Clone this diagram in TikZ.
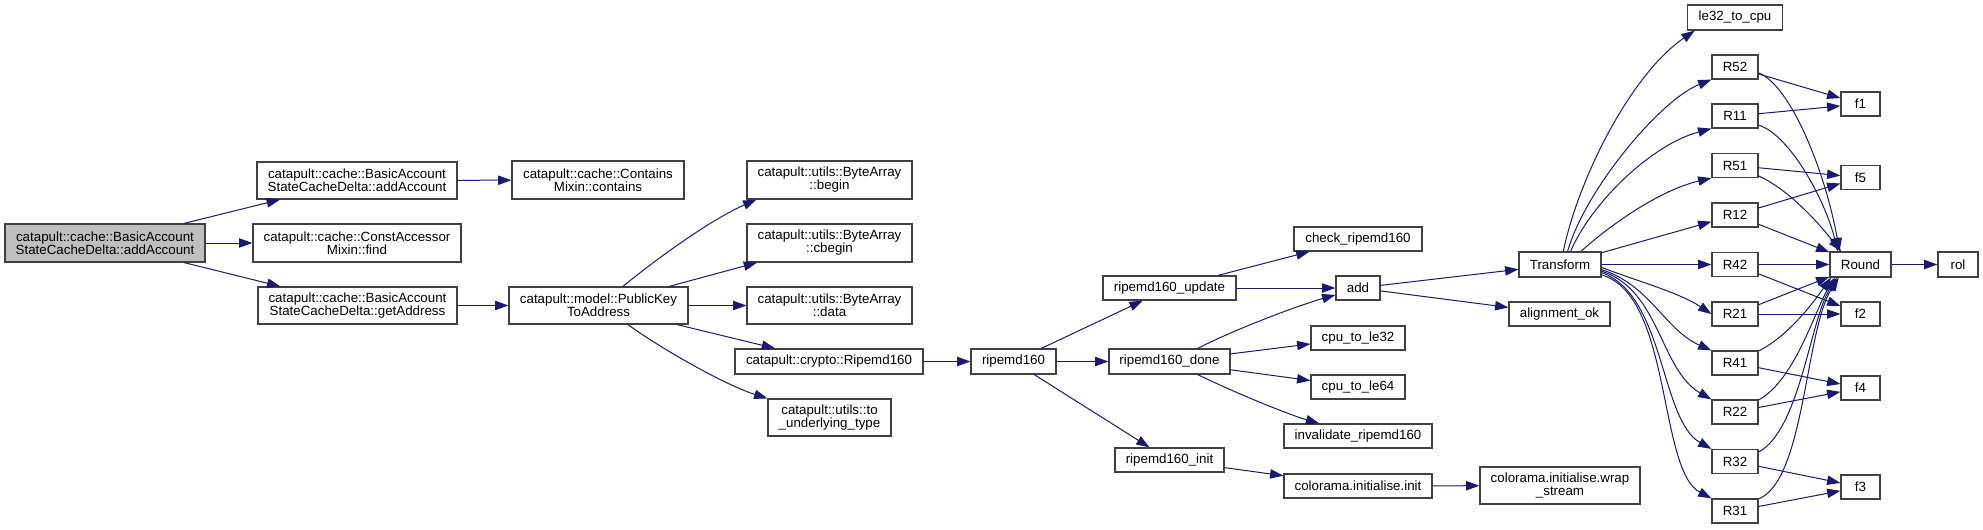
\documentclass[tikz,border=0pt]{standalone}
\usepackage{fontspec}
\setmainfont{Liberation Sans}
\usetikzlibrary{arrows.meta}
\definecolor{edgec}{HTML}{191970}
\definecolor{bord}{HTML}{404040}
\definecolor{rootfill}{HTML}{BFBFBF}
\begin{document}
\begin{tikzpicture}[x=0.75pt,y=-0.75pt,
  box/.style={draw=bord,line width=0.9pt,fill=white,inner sep=0pt,align=center,
    font=\fontsize{10pt}{9.75pt}\selectfont},
  sz/.style 2 args={minimum width=#1*0.75pt,minimum height=#2*0.75pt},
  rootbox/.style={box,fill=rootfill},
  edge/.style={draw=edgec,line width=0.75pt,-{Triangle[length=10pt,width=7pt]}}]
\useasboundingbox (0,0) rectangle (1983,529);
% nodes
\node[rootbox,sz={200}{38}] (root) at (105,243) {catapult::cache::BasicAccount\\StateCacheDelta::addAccount};
\node[box,sz={200}{37}] (addacc) at (357,180.5) {catapult::cache::BasicAccount\\StateCacheDelta::addAccount};
\node[box,sz={208}{38}] (find) at (357,243) {catapult::cache::ConstAccessor\\Mixin::find};
\node[box,sz={199}{37}] (getaddr) at (357.5,305.5) {catapult::cache::BasicAccount\\StateCacheDelta::getAddress};
\node[box,sz={172}{38}] (contains) at (598,180) {catapult::cache::Contains\\Mixin::contains};
\node[box,sz={179}{37}] (pk) at (598.5,305.5) {catapult::model::PublicKey\\ToAddress};
\node[box,sz={165}{38}] (begin) at (829.5,180) {catapult::utils::ByteArray\\::begin};
\node[box,sz={165}{38}] (cbegin) at (829.5,243) {catapult::utils::ByteArray\\::cbegin};
\node[box,sz={165}{37}] (data) at (829.5,305.5) {catapult::utils::ByteArray\\::data};
\node[box,sz={188}{25}] (crypto) at (829,361.5) {catapult::crypto::Ripemd160};
\node[box,sz={123}{37}] (tounder) at (829.5,417.5) {catapult::utils::to\\\_underlying\_type};
\node[box,sz={85}{25}] (rmd) at (1013.5,361.5) {ripemd160};
\node[box,sz={133}{24}] (upd) at (1169.5,288) {ripemd160\_update};
\node[box,sz={121}{25}] (done) at (1169.5,361.5) {ripemd160\_done};
\node[box,sz={109}{24}] (init) at (1169.5,460) {ripemd160\_init};
\node[box,sz={128}{24}] (check) at (1358,239) {check\_ripemd160};
\node[box,sz={44}{24}] (add) at (1358,288) {add};
\node[box,sz={94}{24}] (le32) at (1358,338) {cpu\_to\_le32};
\node[box,sz={94}{24}] (le64) at (1358,387) {cpu\_to\_le64};
\node[box,sz={148}{24}] (inval) at (1358,436) {invalidate\_ripemd160};
\node[box,sz={148}{24}] (cinit) at (1358,486) {colorama.initialise.init};
\node[box,sz={82}{25}] (tr) at (1560,264.5) {Transform};
\node[box,sz={101}{24}] (align) at (1559.5,314) {alignment\_ok};
\node[box,sz={160}{37}] (wrap) at (1560,485.5) {colorama.initialise.wrap\\\_stream};
\node[box,sz={95}{25}] (lecpu) at (1735,17.5) {le32\_to\_cpu};
\node[box,sz={46}{24}] (R52) at (1735,67) {R52};
\node[box,sz={46}{24}] (R11) at (1735,116) {R11};
\node[box,sz={46}{24}] (R51) at (1735,165.5) {R51};
\node[box,sz={46}{24}] (R12) at (1735,215) {R12};
\node[box,sz={46}{24}] (R42) at (1735,264.5) {R42};
\node[box,sz={46}{24}] (R21) at (1735,314) {R21};
\node[box,sz={46}{24}] (R41) at (1735,363) {R41};
\node[box,sz={46}{24}] (R22) at (1735,412) {R22};
\node[box,sz={46}{24}] (R32) at (1735,461.5) {R32};
\node[box,sz={46}{24}] (R31) at (1735,511) {R31};
\node[box,sz={39}{24}] (f1) at (1860.5,104) {f1};
\node[box,sz={39}{24}] (f5) at (1860.5,177.5) {f5};
\node[box,sz={39}{24}] (f2) at (1860.5,314) {f2};
\node[box,sz={39}{24}] (f4) at (1860.5,388) {f4};
\node[box,sz={39}{24}] (f3) at (1860.5,487) {f3};
\node[box,sz={61}{25}] (round) at (1860.5,264.5) {Round};
\node[box,sz={40}{25}] (rol) at (1958,264.5) {rol};
% straight edges
\foreach \a/\b in {root/addacc,root/find,root/getaddr,addacc/contains,getaddr/pk,
  pk/cbegin,pk/data,pk/crypto,crypto/rmd,rmd/upd,rmd/done,rmd/init,upd/check,upd/add,
  done/le32,done/le64,init/cinit,cinit/wrap,add/tr,add/align,tr/R12,tr/R42,
  R52/f1,R11/f1,R51/f5,R12/f5,R12/round,R42/round,R42/f2,R21/round,R21/f2,
  R41/f4,R22/f4,R32/f3,R31/f3,round/rol}
  \draw[edge] (\a) -- (\b);
% curved edges
\draw[edge] (pk.38.2) .. controls (655,260) and (710,220) .. (begin.195.9);
\draw[edge] (pk.-33) .. controls (660,348) and (725,385) .. (tounder.north west);
\draw[edge] (done.25.3) .. controls (1240,327) and (1300,305) .. (add.197.6);
\draw[edge] (done.-25.3) .. controls (1240,395) and (1290,415) .. (inval.162.5);
% Transform upward fan
\draw[edge] (tr.76.5) .. controls (1578,180) and (1630,75) .. (lecpu.198.7);
\draw[edge] (tr.60.8) .. controls (1585,190) and (1660,100) .. (R52.south west);
\draw[edge] (tr.51.3) .. controls (1590,205) and (1650,145) .. (R11.south west);
\draw[edge] (tr.32) .. controls (1610,225) and (1660,190) .. (R51.south west);
% Transform downward fan
\draw[edge] (tr.-4.9) .. controls (1640,282) and (1680,293) .. (R21.west);
\draw[edge] (tr.-7.6) .. controls (1650,285) and (1665,330) .. (R41.north west);
\draw[edge] (tr.-9.7) .. controls (1660,290) and (1660,370) .. (R22.north west);
\draw[edge] (tr.-11.7) .. controls (1665,295) and (1660,420) .. (R32.north west);
\draw[edge] (tr.-14) .. controls (1672,295) and (1658,470) .. (R31.north west);
% R -> Round curves
\draw[edge] (R52.-14.6) .. controls (1790,85) and (1825,170) .. (round.148.6);
\draw[edge] (R11.-21.4) .. controls (1790,135) and (1825,200) .. (round.150.9);
\draw[edge] (R51.-24.5) .. controls (1790,190) and (1820,225) .. (round.146);
\draw[edge] (R41.27.5) .. controls (1790,335) and (1815,300) .. (round.204.4);
\draw[edge] (R22.27.5) .. controls (1795,380) and (1815,310) .. (round.207);
\draw[edge] (R32.22.4) .. controls (1800,430) and (1810,320) .. (round.209);
\draw[edge] (R31.27.5) .. controls (1805,480) and (1805,330) .. (round.211.4);
\end{tikzpicture}
\end{document}
